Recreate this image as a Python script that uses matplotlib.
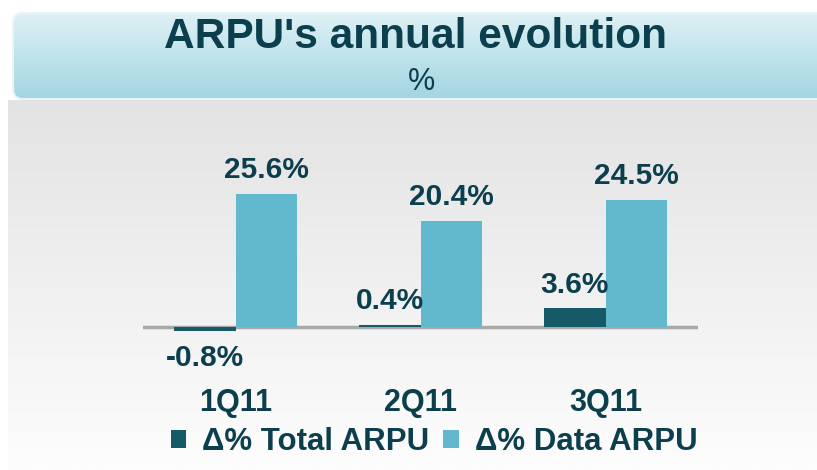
"""ARPU's annual evolution: grouped bars, Total vs Data ARPU (% y/y)."""

import matplotlib

matplotlib.use("Agg")
import matplotlib.pyplot as plt  # noqa: E402
import numpy as np  # noqa: E402
from matplotlib.patches import FancyBboxPatch  # noqa: E402

quarters = ["1Q11", "2Q11", "3Q11"]
total_arpu = [-0.8, 0.4, 3.6]
data_arpu = [25.6, 20.4, 24.5]
series_names = ["\u0394% Total ARPU", "\u0394% Data ARPU"]

DARK = "#155a66"
LIGHT = "#62b8cd"
TEXT = "#0c3f4e"
plt.rcParams["font.family"] = ["Liberation Sans", "DejaVu Sans"]

W, H = 817, 470
fig = plt.figure(figsize=(W / 100, H / 100), dpi=100)

# background canvas in pixel coordinates
bg = fig.add_axes([0, 0, 1, 1])
bg.set_xlim(0, W); bg.set_ylim(H, 0); bg.axis("off")
g = np.linspace(0, 1, 256)[:, None]
bg.imshow(np.repeat(g, 2, axis=1), cmap=matplotlib.colors.LinearSegmentedColormap.from_list(
    "bg", ["#e3e3e3", "#fdfdfd"]), extent=(8, W, H, 100), aspect="auto", zorder=0)
hdr = FancyBboxPatch((13, 13), W, 86, boxstyle="round,pad=0,rounding_size=10",
                     fc="none", ec="#eaf4f6", lw=1.5, zorder=2)
bg.add_patch(hdr)
im = bg.imshow(np.repeat(g, 2, axis=1), cmap=matplotlib.colors.LinearSegmentedColormap.from_list(
    "hdr", ["#def1f5", "#a3d5e1"]), extent=(13, W + 13, 99, 13), aspect="auto", zorder=1)
im.set_clip_path(hdr)
bg.text(416, 37, "ARPU's annual evolution", ha="center", va="center", fontsize=30.5,
        fontweight="bold", color=TEXT)
bg.text(422, 82, "%", ha="center", va="center", fontsize=22, color=TEXT)

# main plot: baseline at y=327px, 5.2 px per percentage point
ylo, yhi = -4, 34
px = 5.2
ax = fig.add_axes([143 / W, 1 - (327 + -ylo * px) / H, 555 / W, (yhi - ylo) * px / H])
ax.set_xlim(-0.5, 2.5); ax.set_ylim(ylo, yhi); ax.axis("off")
x = np.arange(len(quarters))
w = 0.335
b1 = ax.bar(x - w / 2, total_arpu, w, color=DARK, label=series_names[0], zorder=2)
b2 = ax.bar(x + w / 2, data_arpu, w, color=LIGHT, label=series_names[1], zorder=2)
ax.axhline(0, color="#a8a8a8", lw=2.5, zorder=1)

for bars in (b1, b2):
    for r in bars:
        v = r.get_height()
        cx = r.get_x() + r.get_width() / 2
        if v >= 0:
            ax.annotate(f"{v:.1f}%", (cx, v), xytext=(0, 7), textcoords="offset points",
                        ha="center", va="bottom", fontsize=21.5, fontweight="bold", color=TEXT)
        else:
            ax.annotate(f"{v:.1f}%", (cx, v), xytext=(0, -9), textcoords="offset points",
                        ha="center", va="top", fontsize=21.5, fontweight="bold", color=TEXT)

for i, q in enumerate(quarters):
    ax.annotate(q, (i, 0), xytext=(0, -55), textcoords="offset points", ha="center",
                va="center", fontsize=22, fontweight="bold", color=TEXT)

fig.legend(handles=[b1, b2], loc="center", bbox_to_anchor=(434 / W, 1 - 442 / H), ncol=2,
           frameon=False, prop={"size": 22.5, "weight": "bold"}, labelcolor=TEXT,
           handlelength=0.5, handleheight=0.5, handletextpad=0.5, columnspacing=0.45,
           borderpad=0)

fig.savefig("out.png", dpi=100)
